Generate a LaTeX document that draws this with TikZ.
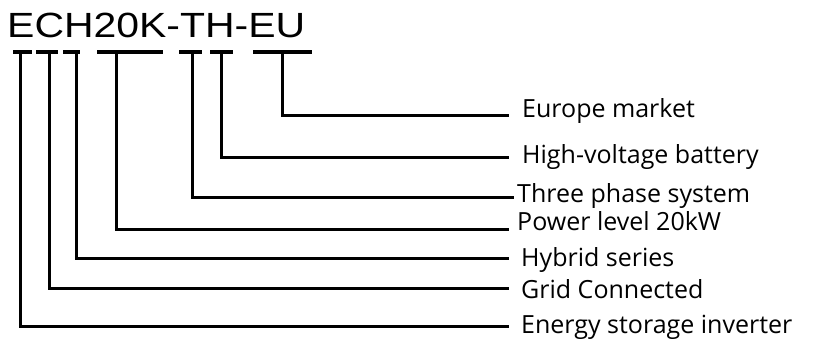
\documentclass[tikz,border=0pt]{standalone}
\usepackage{fontspec}
\setmainfont{Liberation Sans}
\newfontfamily\labelfont{Open Sans}
\begin{document}
\begin{tikzpicture}[x=1pt,y=-1pt,
  lbl/.style={anchor=base west,inner sep=0pt,font=\labelfont\fontsize{25}{30}\selectfont},
  conn/.style={line width=3pt,line cap=rect,line join=miter},
  tbar/.style={line width=3.2pt}]
\useasboundingbox (0,0) rectangle (826,340);
\node[anchor=base west,inner sep=0pt,font=\fontsize{35}{40}\selectfont] (title) at (7,37) {\scalebox{1.17}[1]{ECH20K-TH-EU}};
% T bar tops
\foreach \n/\a/\b/\s in {1/13/32/20, 2/36/58/49, 3/63/80/76, 4/97/163/116, 5/179/202/192, 6/210/233/221, 7/253/312/282}{
  \coordinate (t\n) at (\s,52);
  \draw[tbar] (\a,52) -- (\b,52);
}
% line ends
\coordinate (e7) at (507,115.5);
\coordinate (e6) at (507,157);
\coordinate (e5) at (512,197);
\coordinate (e4) at (507,229);
\coordinate (e3) at (507,258.5);
\coordinate (e2) at (507,288.5);
\coordinate (e1) at (507,326);
% labels
\node[lbl] (l7) at (522,117) {Europe market};
\node[lbl] (l6) at (522,163) {High-voltage battery};
\node[lbl] (l5) at (517,202) {Three phase system};
\node[lbl] (l4) at (517,230) {Power level 20kW};
\node[lbl] (l3) at (521,266) {Hybrid series};
\node[lbl] (l2) at (521,298) {Grid Connected};
\node[lbl] (l1) at (521,333) {Energy storage inverter};
\foreach \n in {1,...,7}{
  \draw[conn] (t\n) |- (e\n);
}
\end{tikzpicture}
\end{document}
